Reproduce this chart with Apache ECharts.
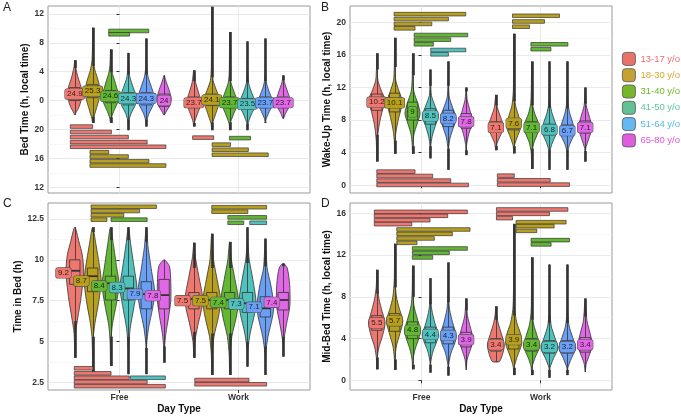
<!DOCTYPE html>
<html><head><meta charset="utf-8">
<script src="https://cdn.jsdelivr.net/npm/echarts@6/dist/echarts.min.js"></script>
<style>html,body{margin:0;padding:0;background:#fff}#c{width:681px;height:417px}</style>
</head><body><div id="c"></div>
<script>
// ---------- categories ----------
const dayTypes = ['Free', 'Work'];
const ageGroups = ['13-17 y/o', '18-30 y/o', '31-40 y/o', '41-50 y/o', '51-64 y/o', '65-80 y/o'];

// ---------- Panel A : Bed Time (h, local time; negative = before midnight) ----------
const bedTicks = [-12, -8, -4, 0, 4, 8, 12];
const bedMeans = [[24.9, 25.3, 24.6, 24.3, 24.3, 24], [23.7, 24.1, 23.7, 23.5, 23.7, 23.7]];
// [whiskerLow, q1, median, q3, whiskerHigh]
const bedBoxes = [
  [[-2.0, 0.0, 0.9, 1.8, 4.5], [-2.2, 0.4, 1.3, 2.2, 4.8], [-2.3, -0.3, 0.6, 1.4, 3.9], [-2.6, -0.6, 0.2, 1.1, 3.6], [-2.6, -0.6, 0.2, 1.1, 3.6], [-2.0, -0.8, 0.0, 0.9, 3.5]],
  [[-3.1, -1.0, -0.3, 0.5, 2.7], [-3.0, -0.7, 0.0, 0.9, 3.2], [-3.0, -1.0, -0.3, 0.5, 2.7], [-3.2, -1.2, -0.5, 0.3, 2.5], [-3.0, -1.0, -0.3, 0.5, 2.7], [-2.5, -1.0, -0.3, 0.5, 2.8]]
];
// violin outline knots [value, relative width]
const bedShapes = [
  [
    [[-2.0,0],[-1.7,0.12],[-0.8,0.5],[0.8,0.85],[1.9,0.7],[3.3,0.34],[4.6,0.1],[5.6,0]],
    [[-3.1,0],[-2.45,0.1],[-1.3,0.37],[0.1,0.7],[1.4,0.85],[2.85,0.6],[4.2,0.26],[5.5,0.08],[7,0.03],[10.1,0]],
    [[-3.1,0],[-2.45,0.08],[-1.5,0.35],[-0.4,0.75],[0.6,0.92],[2.4,0.55],[3.8,0.2],[5,0.06],[7.1,0]],
    [[-4.1,0],[-2.8,0.06],[-1.8,0.3],[-0.6,0.78],[0.3,0.95],[1.8,0.55],[3.2,0.18],[4.5,0.05],[6.6,0]],
    [[-3.6,0],[-2.8,0.06],[-1.8,0.3],[-0.6,0.78],[0.3,0.95],[1.8,0.6],[3.3,0.2],[4.8,0.05],[8.6,0]],
    [[-2.0,0],[-1.5,0.25],[-0.5,0.7],[0.3,0.8],[1.5,0.55],[2.7,0.2],[3.5,0]]
  ],
  [
    [[-3.6,0],[-2.8,0.12],[-1.5,0.5],[-0.3,0.85],[1,0.55],[2.5,0.2],[4.2,0]],
    [[-4.1,0],[-3.2,0.08],[-1.8,0.45],[0.1,0.9],[1.5,0.5],[2.8,0.15],[4.5,0.05],[13,0]],
    [[-4.1,0],[-3.2,0.06],[-2,0.4],[-0.3,0.9],[1.2,0.5],[2.5,0.15],[4,0.04],[9.5,0]],
    [[-4.1,0],[-3.2,0.06],[-2,0.4],[-0.5,0.92],[1,0.5],[2.3,0.15],[3.8,0.04],[8.2,0]],
    [[-3.1,0],[-2.5,0.1],[-1.5,0.45],[-0.3,0.9],[1,0.5],[2.3,0.15],[3.8,0.04],[8.6,0]],
    [[-2.5,0],[-1.8,0.25],[-0.3,0.85],[1.2,0.5],[2.5,0.15],[3.5,0]]
  ]
];
// significance bars [day, colourGroup, fromPos, toPos, value]
const bedBars = [
  [0,0,-0.25,1.0,-3.6],[0,0,-0.25,2.05,-4.35],[0,0,-0.25,3.0,-5.05],[0,0,-0.25,4.05,-5.75],[0,0,-0.25,5.1,-6.4],
  [0,1,0.85,1.9,-7.15],[0,1,0.85,3.0,-7.75],[0,1,0.85,4.15,-8.4],[0,1,0.85,5.1,-9.0],
  [0,2,1.9,4.14,9.64],[0,2,1.9,3.07,9.18],
  [1,0,-0.07,1.11,-5.13],[1,2,1.99,3.17,-5.2],
  [1,1,1.02,2.05,-6.1],[1,1,1.02,3.05,-6.8],[1,1,1.02,4.16,-7.5]
];

// ---------- Panel B : Wake-Up Time ----------
const wakeTicks = [0, 4, 8, 12, 16, 20];
const wakeMeans = [[10.2, 10.1, 9, 8.5, 8.2, 7.8], [7.1, 7.6, 7.1, 6.8, 6.7, 7.1]];
const wakeBoxes = [
  [[6.2, 9.2, 10.2, 11.2, 14.2], [5.5, 9.0, 10.0, 11.3, 14.5], [4.8, 8.0, 9.0, 10.2, 13.5], [4.8, 7.5, 8.5, 9.4, 12.2], [4.5, 7.2, 8.2, 9.2, 12.2], [4.3, 7.0, 7.8, 8.8, 11.5]],
  [[4.8, 6.5, 7.1, 7.8, 9.8], [4.8, 6.8, 7.5, 8.2, 10.3], [4.5, 6.5, 7.0, 7.8, 9.8], [4.3, 6.2, 6.8, 7.5, 9.5], [4.3, 6.2, 6.7, 7.4, 9.4], [4.2, 6.4, 7.1, 7.9, 10.0]]
];
const wakeShapes = [
  [
    [[2.9,0],[4.5,0.03],[5.6,0.07],[6.8,0.18],[8.0,0.37],[9.25,0.65],[10.4,0.95],[11.7,0.47],[12.9,0.12],[14.3,0.04],[16.2,0]],
    [[3.85,0],[5.4,0.04],[6.6,0.15],[8,0.4],[9.3,0.7],[10.2,0.9],[11.5,0.5],[12.9,0.12],[14.5,0.04],[18.1,0]],
    [[3.85,0],[5,0.04],[6.2,0.15],[7.5,0.5],[8.8,0.85],[10,0.6],[11.5,0.15],[13,0.04],[16.2,0]],
    [[3.3,0],[4.8,0.04],[6,0.2],[7.3,0.55],[8.5,0.9],[9.8,0.5],[11,0.12],[12.5,0.04],[14.2,0]],
    [[1.9,0],[4.5,0.04],[5.8,0.2],[7,0.55],[8.2,0.9],[9.5,0.5],[10.8,0.12],[12.5,0.04],[15.2,0]],
    [[3.7,0],[5,0.06],[6.3,0.3],[7.8,0.7],[9.3,0.4],[10.5,0.12],[12,0]]
  ],
  [
    [[4.3,0],[5.2,0.15],[6.2,0.55],[7.2,0.85],[8.3,0.55],[9.5,0.18],[11.1,0]],
    [[3.9,0],[4.8,0.06],[5.8,0.35],[7.2,0.8],[8.5,0.55],[9.8,0.2],[11.5,0.05],[13,0.03],[18.6,0]],
    [[2.0,0],[4.0,0.04],[5.2,0.25],[6.6,0.75],[7.5,0.8],[8.8,0.35],[10,0.1],[12,0.03],[15.2,0]],
    [[1.9,0],[4.0,0.04],[5,0.25],[6.5,0.8],[7.5,0.7],[8.8,0.3],[10,0.08],[12,0.03],[15.2,0]],
    [[1.9,0],[4.0,0.04],[5,0.25],[6.4,0.8],[7.5,0.65],[8.8,0.28],[10,0.08],[12,0.03],[15.2,0]],
    [[2.9,0],[4.5,0.06],[5.7,0.4],[7.1,0.75],[8.3,0.5],[9.8,0.12],[12,0]]
  ]
];
const wakeBars = [
  [0,1,0.97,4.98,21.0],[0,1,0.97,4.01,20.4],[0,1,0.97,3.08,19.8],[0,1,0.97,2.14,19.26],
  [0,2,2.09,5.09,18.44],[0,2,2.09,4.14,17.87],[0,2,2.09,3.17,17.3],
  [0,3,3.02,4.98,16.6],[0,3,3.02,4.01,16.07],
  [0,0,0.0,2.14,1.67],[0,0,0.0,3.13,1.14],[0,0,0.0,4.14,0.57],[0,0,0.0,5.13,0.04],
  [1,1,0.93,3.56,20.8],[1,1,0.93,2.72,20.1],[1,1,0.93,1.88,19.46],
  [1,2,1.96,4.03,17.3],[1,2,1.96,3.08,16.7],
  [1,0,0.08,1.03,1.18],[1,0,0.08,3.04,0.61],[1,0,0.08,4.12,0.08]
];

// ---------- Panel C : Time in Bed ----------
const tibTicks = [2.5, 5, 7.5, 10, 12.5];
const tibMeans = [[9.2, 8.7, 8.4, 8.3, 7.9, 7.8], [7.5, 7.5, 7.4, 7.3, 7.1, 7.4]];
const tibBoxes = [
  [[6.25, 8.5, 9.33, 10.0, 12.0], [5.3, 8.05, 9.0, 9.5, 11.7], [5.3, 7.54, 8.56, 9.0, 11.2], [5.3, 7.54, 8.25, 9.0, 11.2], [4.6, 7.0, 7.9, 8.66, 11.1], [4.7, 7.0, 7.84, 8.8, 10.0]],
  [[5.6, 7.0, 7.6, 8.0, 9.5], [5.5, 7.0, 7.54, 8.0, 9.5], [5.5, 7.0, 7.54, 8.0, 9.5], [5.0, 6.78, 7.34, 8.0, 9.8], [4.7, 6.5, 7.03, 7.74, 9.6], [5.3, 6.93, 7.54, 8.0, 9.6]]
];
const tibShapes = [
  [
    [[4.0,0],[5.5,0.08],[6.5,0.35],[7.5,0.65],[8.6,0.9],[9.3,1.0],[10.3,0.84],[11.1,0.47],[12.0,0]],
    [[2.95,0],[4.5,0.03],[5.3,0.08],[6.1,0.25],[7.5,0.7],[8.7,0.95],[9.5,0.8],[11,0.35],[12,0]],
    [[3.5,0],[5,0.05],[6,0.2],[7.3,0.65],[8.5,0.95],[9.5,0.7],[11,0.3],[12,0]],
    [[3.0,0],[4.7,0.05],[5.8,0.2],[7.2,0.65],[8.3,0.95],[9.5,0.65],[11,0.25],[12,0]],
    [[3.0,0],[4.8,0.05],[5.8,0.25],[7,0.7],[8,0.95],[9.3,0.6],[10.8,0.2],[12,0]],
    [[3.7,0],[4.6,0.04],[5.5,0.2],[6.5,0.5],[7.5,0.75],[8.6,0.75],[9.6,0.6],[10.0,0]]
  ],
  [
    [[4.0,0],[5.0,0.1],[6.0,0.45],[7.5,1.0],[9.0,0.55],[10.2,0.15],[11.05,0]],
    [[2.95,0],[4.2,0.05],[5.3,0.25],[6.5,0.75],[7.5,1.0],[8.8,0.6],[10,0.2],[11.6,0]],
    [[2.95,0],[4.2,0.05],[5.3,0.25],[6.5,0.75],[7.5,1.0],[8.8,0.6],[10,0.2],[11.1,0]],
    [[3.46,0],[4.5,0.05],[5.5,0.3],[6.7,0.8],[7.5,0.95],[8.8,0.6],[10,0.2],[11,0.05],[12,0]],
    [[2.95,0],[4.3,0.05],[5.3,0.3],[6.5,0.8],[7.2,0.95],[8.5,0.6],[9.5,0.2],[11.3,0]],
    [[4.07,0],[5,0.06],[6,0.35],[7.2,0.75],[8.5,0.72],[9.5,0.45],[9.78,0]]
  ]
];
const tibBars = [
  [0,1,0.91,4.57,13.25],[0,1,0.91,3.63,12.99],[0,1,0.91,2.74,12.73],[0,1,0.91,1.8,12.46],
  [0,2,2.03,4.05,12.46],
  [0,0,-0.03,1.02,3.36],[0,0,-0.03,2.03,3.05],[0,0,-0.03,3.05,2.78],[0,0,-0.03,4.05,2.52],[0,0,-0.03,5.07,2.26],
  [0,3,3.11,5.07,2.78],
  [1,1,1.0,4.07,13.22],[1,1,1.0,3.02,12.95],
  [1,2,1.9,4.07,12.6],[1,2,1.9,2.79,12.27],[1,3,3.13,4.07,12.27],
  [1,0,0.05,3.08,2.64],[1,0,0.05,4.07,2.38]
];

// ---------- Panel D : Mid-Bed Time ----------
const midTicks = [0, 4, 8, 12, 16];
const midMeans = [[5.5, 5.7, 4.8, 4.4, 4.3, 3.9], [3.4, 3.9, 3.4, 3.2, 3.2, 3.4]];
const midBoxes = [
  [[2.2, 4.8, 5.4, 6.2, 8.3], [2.0, 4.7, 5.5, 6.4, 8.9], [1.5, 4.0, 4.7, 5.6, 8.0], [1.5, 3.6, 4.3, 5.1, 7.3], [1.3, 3.5, 4.2, 5.1, 7.5], [1.0, 3.2, 3.9, 4.6, 6.7]],
  [[1.8, 2.8, 3.4, 4.0, 5.8], [1.2, 3.0, 3.7, 4.3, 6.2], [1.0, 2.8, 3.4, 4.0, 5.8], [1.0, 2.6, 3.1, 3.8, 5.5], [1.0, 2.6, 3.1, 3.8, 5.5], [0.8, 2.7, 3.4, 4.1, 6.1]]
];
const midShapes = [
  [
    [[1.05,0],[2.2,0.05],[3.2,0.25],[4.3,0.65],[5.5,0.93],[6.6,0.6],[7.8,0.25],[9,0.06],[10.6,0]],
    [[0.99,0],[2.2,0.04],[3.3,0.2],[4.5,0.6],[5.7,0.92],[6.8,0.55],[8,0.2],[9.5,0.05],[11,0.02],[13.1,0]],
    [[1.05,0],[2,0.05],[3,0.3],[4,0.7],[4.8,0.9],[6,0.5],[7.2,0.15],[8.5,0.04],[11,0]],
    [[0.73,0],[1.8,0.05],[2.8,0.3],[3.8,0.75],[4.4,0.9],[5.5,0.5],[6.8,0.15],[8,0.04],[9.8,0]],
    [[0.45,0],[1.5,0.05],[2.6,0.3],[3.6,0.75],[4.3,0.9],[5.5,0.5],[6.8,0.15],[8.2,0.04],[11.3,0]],
    [[1.0,0],[2,0.12],[3,0.5],[3.9,0.8],[5,0.5],[6.2,0.15],[7.85,0]]
  ],
  [
    [[1.75,0],[1.8,0.4],[2.5,0.75],[3.4,0.95],[4.5,0.6],[5.5,0.25],[6.3,0.08],[7.1,0]],
    [[0.5,0],[1.3,0.06],[2.3,0.4],[3.5,0.9],[4.5,0.75],[5.5,0.35],[6.8,0.1],[8.5,0.03],[15,0]],
    [[0.5,0],[1.3,0.06],[2.2,0.4],[3.3,0.92],[4.3,0.6],[5.3,0.25],[6.5,0.06],[8,0.02],[11.8,0]],
    [[0.25,0],[1.2,0.06],[2.1,0.45],[3.1,0.95],[4.1,0.6],[5.2,0.2],[6.5,0.05],[8,0.02],[11.1,0]],
    [[0.5,0],[1.2,0.06],[2.1,0.45],[3.1,0.95],[4.1,0.6],[5.2,0.2],[6.5,0.05],[8,0.02],[11.1,0]],
    [[0.8,0],[1.6,0.12],[2.5,0.5],[3.4,0.8],[4.5,0.55],[5.7,0.2],[7.85,0]]
  ]
];
const midBars = [
  [0,0,-0.14,5.07,16.15],[0,0,-0.14,3.97,15.77],[0,0,-0.14,2.98,15.35],[0,0,-0.14,1.96,14.97],
  [0,1,1.12,5.22,14.46],[0,1,1.12,4.23,14.04],[0,1,1.12,3.22,13.6],[0,1,1.12,2.25,13.18],
  [0,2,1.99,5.07,12.64],[0,2,1.99,4.06,12.22],[0,2,1.99,3.13,11.78],
  [1,0,0.03,4.03,16.38],[1,0,0.03,3.0,15.96],[1,0,0.03,0.93,15.55],
  [1,1,1.13,3.93,15.16],[1,1,1.13,3.26,14.78],[1,1,1.13,2.29,14.33],
  [1,2,1.97,4.12,13.44],[1,2,1.97,3.09,13.03]
];

// ---------- styling ----------
const FONT = '"Liberation Sans", Arial, sans-serif';
const violinColors = ['#EE776F', '#B8A01E', '#62B832', '#50C2BE', '#6A9FF5', '#E068E6'];
const legendFill = ['#E8736B', '#C4A132', '#76B62A', '#63C196', '#66B8F2', '#E05CDF'];
const legendText = ['#EE6E6E', '#D6A82C', '#6EBA26', '#5CC69A', '#55B8EE', '#E254DE'];
const SLOT = 0.15, BOXW = 0.58, DARK = '#333';

const panels = [
  {shapes: bedShapes, boxes: bedBoxes, means: bedMeans, shift: -24, bars: bedBars, nudge: 0},
  {shapes: wakeShapes, boxes: wakeBoxes, means: wakeMeans, shift: 0, bars: wakeBars, nudge: 0},
  {shapes: tibShapes, boxes: tibBoxes, means: tibMeans, shift: 0, bars: tibBars, nudge: -0.095},
  {shapes: midShapes, boxes: midBoxes, means: midMeans, shift: 0, bars: midBars, nudge: 0}
];

function violinRender(P, g) {
  return function (params, api) {
    const d = api.value(0);
    const xc = d + (g - 2.5) * SLOT;
    const half = SLOT / 2;
    const k = P.shapes[d][g];
    const c = (x, y) => api.coord([x, y]);
    const right = k.map(p => c(xc + p[1] * half, p[0]));
    const left = k.slice(1, -1).reverse().map(p => c(xc - p[1] * half, p[0]));
    const b = P.boxes[d][g];
    const lo = k[0][0], hi = k[k.length - 1][0];
    const bw = BOXW * half;
    const ch = [];
    ch.push({type: 'polygon', shape: {points: right.concat(left), smooth: 0.25},
      style: {fill: violinColors[g], stroke: DARK, lineWidth: 0.8}});
    const p0 = c(xc, 0);
    const X = Math.round(p0[0]) + 0.5;
    const seg = (v1, v2, w) => ({type: 'line', shape: {x1: X, y1: c(xc, v1)[1], x2: X, y2: c(xc, v2)[1]}, style: {stroke: DARK, lineWidth: w}});
    ch.push(seg(b[0], b[1], 0.8));
    ch.push(seg(b[3], b[4], 0.8));
    if (hi > b[4]) ch.push(seg(b[4], hi, 2.6));
    if (lo < b[0]) ch.push(seg(lo, b[0], 2.6));
    const tl = c(xc - bw, b[3]), br = c(xc + bw, b[1]);
    ch.push({type: 'rect', shape: {x: tl[0], y: tl[1], width: br[0] - tl[0], height: br[1] - tl[1]},
      style: {fill: violinColors[g], stroke: DARK, lineWidth: 0.8}});
    const m = c(xc, b[2])[1];
    ch.push({type: 'line', shape: {x1: tl[0], y1: m, x2: br[0], y2: m}, style: {stroke: DARK, lineWidth: 1.8}});
    return {type: 'group', children: ch};
  };
}
function labelRender(P) {
  return function (params, api) {
    const d = api.value(0), g = api.value(1), mean = api.value(2);
    const p = api.coord([d + (g - 2.5) * SLOT + P.nudge, mean + P.shift]);
    return {type: 'text', x: p[0], y: p[1], style: {
      text: String(mean), fill: 'rgba(0,0,0,0.78)', font: '8px ' + FONT, align: 'center', verticalAlign: 'middle',
      backgroundColor: violinColors[g], borderColor: '#555', borderWidth: 0.6, borderRadius: 2, padding: [1, 2, 0, 2], lineHeight: 9}};
  };
}
function barRender(params, api) {
  const d = api.value(0), g = api.value(1), f = api.value(2), t = api.value(3), v = api.value(4);
  const p1 = api.coord([d + (f - 2.5) * SLOT, v]);
  const p2 = api.coord([d + (t - 2.5) * SLOT, v]);
  return {type: 'rect', shape: {x: p1[0], y: p1[1] - 1.8, width: p2[0] - p1[0], height: 3.6},
    style: {fill: violinColors[g], stroke: DARK, lineWidth: 0.7}};
}

const grids = [
  {left: 48, top: 6, width: 262, height: 187},
  {left: 350, top: 6, width: 262, height: 187},
  {left: 48, top: 203, width: 262, height: 187},
  {left: 350, top: 203, width: 262, height: 187}
].map(gd => Object.assign(gd, {show: true, borderColor: '#9a9a9a', borderWidth: 1, backgroundColor: '#fff'}));

function xAxis(i, showLabels) {
  return {type: 'value', gridIndex: i, min: -0.6, max: 1.6, minInterval: 1, maxInterval: 1,
    name: showLabels ? 'Day Type' : '', nameLocation: 'middle', nameGap: 14,
    nameTextStyle: {fontWeight: 'bold', fontSize: 10, color: '#111', fontFamily: FONT},
    axisLine: {show: false},
    axisTick: {show: true, length: 3, lineStyle: {color: DARK}, customValues: [0, 1]},
    axisLabel: {show: showLabels, customValues: [0, 1], formatter: v => dayTypes[Math.round(v)] || '',
      fontWeight: 'bold', fontSize: 8.5, color: DARK, margin: 3, fontFamily: FONT},
    splitLine: {show: true, lineStyle: {color: '#E4E4E4', width: 0.8}}};
}
function yAxis(i, min, max, step, ticks, fmt, name, gap) {
  return {type: 'value', gridIndex: i, min, max, minInterval: step, maxInterval: step,
    name, nameLocation: 'middle', nameGap: gap, nameRotate: 90,
    nameTextStyle: {fontWeight: 'bold', fontSize: 10, color: '#111', fontFamily: FONT},
    axisLine: {show: false},
    axisTick: {show: true, length: 3, lineStyle: {color: DARK}, customValues: ticks},
    axisLabel: {customValues: ticks, formatter: fmt, fontWeight: 'bold', fontSize: 8.5, color: DARK, margin: 4, fontFamily: FONT},
    splitLine: {show: true, lineStyle: {color: '#E4E4E4', width: 0.8}},
    minorTick: {show: false, splitNumber: 2},
    minorSplitLine: {show: true, lineStyle: {color: '#F3F3F3', width: 0.6}}};
}

const series = [];
panels.forEach((P, pi) => {
  ageGroups.forEach((name, g) => {
    series.push({type: 'custom', name, xAxisIndex: pi, yAxisIndex: pi, z: 2, silent: true,
      itemStyle: {color: violinColors[g]},
      data: dayTypes.map((dt, d) => [d, P.boxes[d][g][2]]),
      renderItem: violinRender(P, g)});
  });
  series.push({type: 'custom', name: 'bars' + pi, xAxisIndex: pi, yAxisIndex: pi, z: 3, silent: true,
    data: P.bars, renderItem: barRender});
  const lab = [];
  dayTypes.forEach((dt, d) => ageGroups.forEach((a, g) => lab.push([d, g, P.means[d][g]])));
  series.push({type: 'custom', name: 'labels' + pi, xAxisIndex: pi, yAxisIndex: pi, z: 4, silent: true,
    data: lab, renderItem: labelRender(P)});
});

const chart = echarts.init(document.getElementById('c'), null, {renderer: 'canvas'});
chart.setOption({
  animation: false,
  backgroundColor: '#fff',
  title: [
    {text: 'A', left: 1, top: 0},
    {text: 'B', left: 319, top: 0},
    {text: 'C', left: 1, top: 196},
    {text: 'D', left: 319, top: 196}
  ].map(t => Object.assign(t, {padding: 2, textStyle: {fontSize: 12, fontWeight: 'normal', color: '#222', fontFamily: FONT}})),
  legend: {orient: 'vertical', left: 622, top: 52, padding: 0, itemWidth: 13, itemHeight: 13, itemGap: 2.5, icon: 'roundRect',
    selectedMode: false,
    data: ageGroups.map((n, i) => ({name: n, itemStyle: {color: legendFill[i], borderColor: '#555', borderWidth: 0.8},
      textStyle: {color: legendText[i]}})),
    textStyle: {fontSize: 9.5, fontFamily: FONT, padding: [0, 0, 0, 0]}},
  grid: grids,
  xAxis: [xAxis(0, false), xAxis(1, false), xAxis(2, true), xAxis(3, true)],
  yAxis: [
    yAxis(0, -12.8, 13.1, 4, bedTicks, v => String(((v % 24) + 24) % 24), 'Bed Time (h, local time)', 16),
    yAxis(1, -0.95, 22, 4, wakeTicks, v => String(v), 'Wake-Up Time (h, local time)', 14),
    yAxis(2, 2.03, 13.48, 2.5, tibTicks, v => String(v), 'Time in Bed (h)', 22),
    yAxis(3, -0.93, 17, 4, midTicks, v => String(v), 'Mid-Bed Time (h, local time)', 14)
  ],
  series
});
</script>
</body></html>
